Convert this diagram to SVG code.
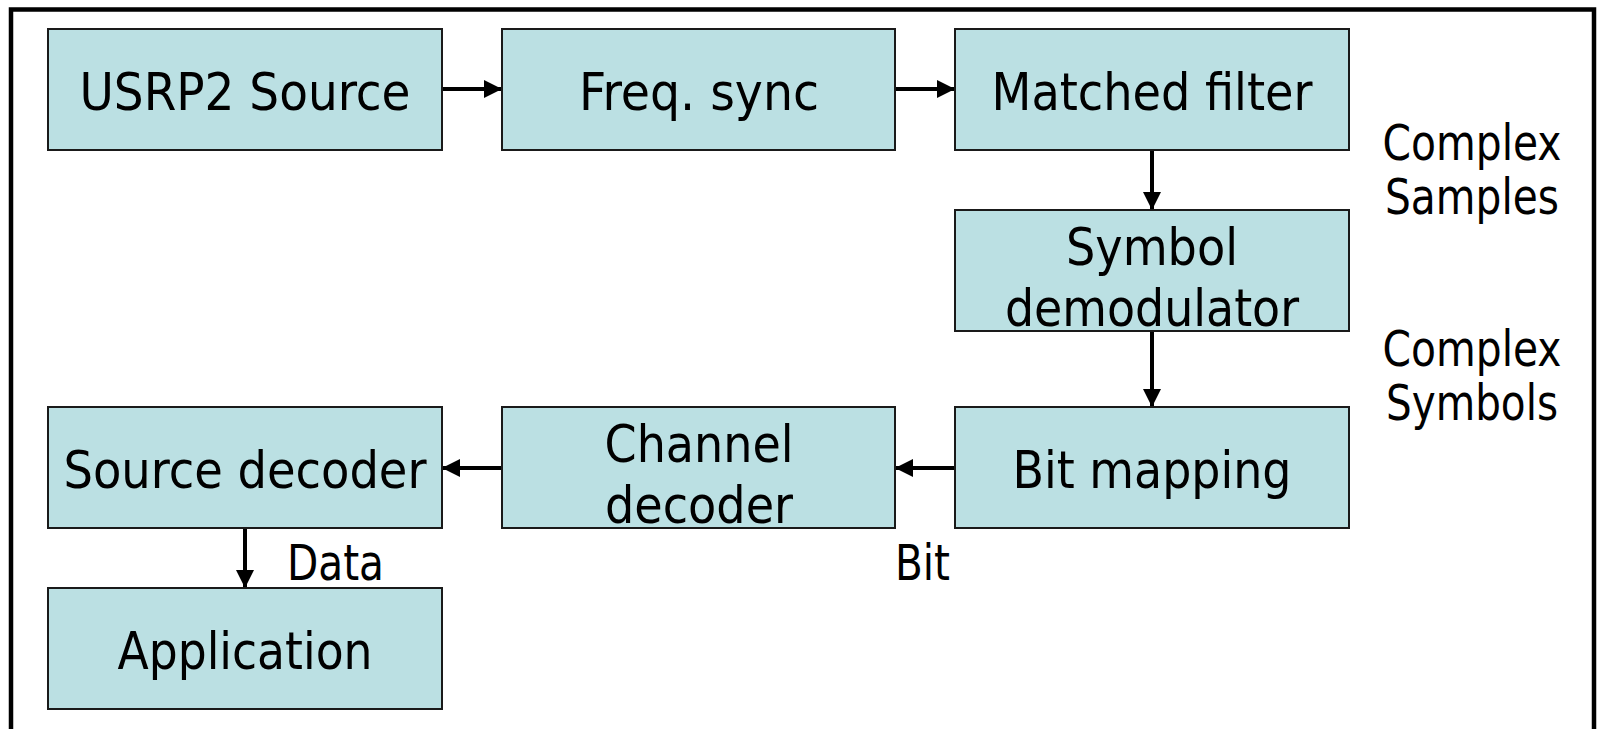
<svg xmlns="http://www.w3.org/2000/svg" width="1602" height="729" viewBox="0 0 1602 729">
  <style>
    .box { fill: #BBE0E3; stroke: #1a1a1a; stroke-width: 2; }
    .bt { font-family: "DejaVu Sans Condensed", "DejaVu Sans", sans-serif; font-stretch: condensed; font-size: 52px; fill: #000; text-anchor: middle; }
    .lb { font-family: "DejaVu Sans Condensed", "DejaVu Sans", sans-serif; font-stretch: condensed; font-size: 49px; fill: #000; }
    .conn { stroke: #000; stroke-width: 4; fill: none; marker-end: url(#ah); }
  </style>
  <defs>
    <marker id="ah" markerUnits="userSpaceOnUse" markerWidth="18" markerHeight="18" viewBox="0 0 18 18" refX="18" refY="9" orient="auto">
      <path d="M0,0 L18,9 L0,18 Z" fill="#000"/>
    </marker>
  </defs>
  <rect x="0" y="0" width="1602" height="729" fill="#fff"/>
  <rect id="frame" x="11" y="9.5" width="1583" height="740" fill="none" stroke="#000" stroke-width="4.5"/>

  <g id="connectors">
    <line class="conn" x1="442" y1="89" x2="502" y2="89"/>
    <line class="conn" x1="895" y1="89" x2="955" y2="89"/>
    <line class="conn" x1="1152" y1="150" x2="1152" y2="210"/>
    <line class="conn" x1="1152" y1="331" x2="1152" y2="407"/>
    <line class="conn" x1="955" y1="468" x2="895" y2="468"/>
    <line class="conn" x1="502" y1="468" x2="442" y2="468"/>
    <line class="conn" x1="245" y1="528" x2="245" y2="588"/>
  </g>

  <g id="usrp2-source">
    <rect class="box" x="48" y="29" width="394" height="121"/>
    <text class="bt" x="245" y="110" textLength="331" lengthAdjust="spacingAndGlyphs">USRP2 Source</text>
  </g>
  <g id="freq-sync">
    <rect class="box" x="502" y="29" width="393" height="121"/>
    <text class="bt" x="699" y="110" textLength="240" lengthAdjust="spacingAndGlyphs">Freq. sync</text>
  </g>
  <g id="matched-filter">
    <rect class="box" x="955" y="29" width="394" height="121"/>
    <text class="bt" x="1152" y="110" textLength="321" lengthAdjust="spacingAndGlyphs">Matched filter</text>
  </g>
  <g id="symbol-demodulator">
    <rect class="box" x="955" y="210" width="394" height="121"/>
    <text class="bt" x="1152" y="265" textLength="172" lengthAdjust="spacingAndGlyphs">Symbol</text>
    <text class="bt" x="1152" y="326" textLength="294" lengthAdjust="spacingAndGlyphs">demodulator</text>
  </g>
  <g id="bit-mapping">
    <rect class="box" x="955" y="407" width="394" height="121"/>
    <text class="bt" x="1152" y="488" textLength="279" lengthAdjust="spacingAndGlyphs">Bit mapping</text>
  </g>
  <g id="channel-decoder">
    <rect class="box" x="502" y="407" width="393" height="121"/>
    <text class="bt" x="699" y="462" textLength="189" lengthAdjust="spacingAndGlyphs">Channel</text>
    <text class="bt" x="699" y="523" textLength="188" lengthAdjust="spacingAndGlyphs">decoder</text>
  </g>
  <g id="source-decoder">
    <rect class="box" x="48" y="407" width="394" height="121"/>
    <text class="bt" x="245" y="488" textLength="363" lengthAdjust="spacingAndGlyphs">Source decoder</text>
  </g>
  <g id="application">
    <rect class="box" x="48" y="588" width="394" height="121"/>
    <text class="bt" x="245" y="669" textLength="255" lengthAdjust="spacingAndGlyphs">Application</text>
  </g>

  <g id="labels">
    <text class="lb" x="287" y="580" textLength="97" lengthAdjust="spacingAndGlyphs">Data</text>
    <text class="lb" x="895" y="580" textLength="55" lengthAdjust="spacingAndGlyphs">Bit</text>
    <text class="lb" x="1472" y="160" text-anchor="middle" textLength="179" lengthAdjust="spacingAndGlyphs">Complex</text>
    <text class="lb" x="1472" y="214" text-anchor="middle" textLength="174" lengthAdjust="spacingAndGlyphs">Samples</text>
    <text class="lb" x="1472" y="366" text-anchor="middle" textLength="179" lengthAdjust="spacingAndGlyphs">Complex</text>
    <text class="lb" x="1472" y="420" text-anchor="middle" textLength="172" lengthAdjust="spacingAndGlyphs">Symbols</text>
  </g>
</svg>
